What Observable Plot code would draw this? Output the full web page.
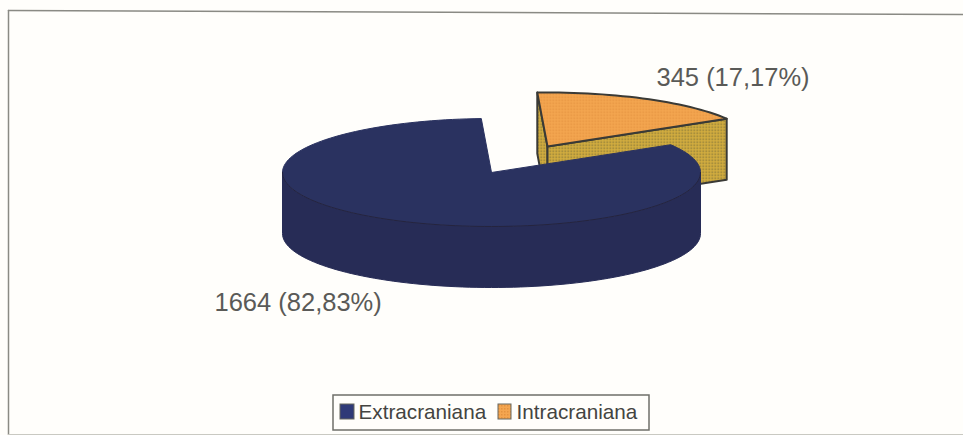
<!DOCTYPE html>
<html>
<head>
<meta charset="utf-8">
<script src="https://cdn.jsdelivr.net/npm/d3@7"></script>
<script src="https://cdn.jsdelivr.net/npm/@observablehq/plot@0.6"></script>
<style>
  html, body { margin: 0; padding: 0; background: #fffefb; overflow: hidden; }
  svg { display: block; }
</style>
</head>
<body>
<div id="chart"></div>
<script>
// Cases by location
const categories = ["Extracraniana", "Intracraniana"];
const counts = [1664, 345];

const total = d3.sum(counts);
const share = counts.map((c) => c / total);
const labels = counts.map((c, i) => `${c} (${(share[i] * 100).toFixed(2).replace(".", ",")}%)`);

// Tilted-disc projection of the pie
const pie = {cx: 491, cy: 172, rx: 209, ry: 54, depth: 61, startDeg: -2.8};
const explode = {dx: 56, dy: -26};
const rad = Math.PI / 180;
const rim = (deg, dx = 0, dy = 0, drop = 0) => ({
  x: pie.cx + dx + pie.rx * Math.sin(deg * rad),
  y: pie.cy + dy + drop - pie.ry * Math.cos(deg * rad)
});
const arc = (a, b, dx, dy, drop) => {
  const n = Math.max(2, Math.ceil(Math.abs(b - a) / 2));
  return d3.range(n + 1).map((i) => rim(a + ((b - a) * i) / n, dx, dy, drop));
};

const intraSweep = share[1] * 360;
const intraStart = pie.startDeg;
const intraEnd = intraStart + intraSweep;
const extraEnd = intraStart + 360;

// Detached Intracraniana slice: top face and the two visible cut faces
const hub = {x: pie.cx + explode.dx, y: pie.cy + explode.dy};
const hubLow = {x: hub.x, y: hub.y + pie.depth};
const intraTop = [hub, ...arc(intraStart, intraEnd, explode.dx, explode.dy, 0), hub];
const intraCutLeft = [
  rim(intraStart, explode.dx, explode.dy), hub, hubLow,
  rim(intraStart, explode.dx, explode.dy, pie.depth), rim(intraStart, explode.dx, explode.dy)
];
const intraCutRight = [
  hub, rim(intraEnd, explode.dx, explode.dy), rim(intraEnd, explode.dx, explode.dy, pie.depth), hubLow, hub
];

// Extracraniana slice: top face and the front wall
const extraTopPts = [{x: pie.cx, y: pie.cy}, ...arc(intraEnd, extraEnd, 0, 0, 0), {x: pie.cx, y: pie.cy}];
const frontUpper = arc(90, 270, 0, 0, 0);
const frontLower = arc(270, 90, 0, 0, pie.depth);
const extraWall = [...frontUpper, ...frontLower, frontUpper[0]];

// Chart frame and legend layout
const frameTop = [{x: 8, y: 10}, {x: 963, y: 14}];
const frameLeft = [{x: 8, y: 10}, {x: 8, y: 434}];
const frameBottom = [{x: 8, y: 434}, {x: 963, y: 434}];
const legendBox = [{x1: 333, x2: 649, y1: 395, y2: 430}];
const legendSwatches = [
  {x1: 340, x2: 354, y1: 404, y2: 419, fill: "#2f3a78"},
  {x1: 498, x2: 511, y1: 404, y2: 419, fill: "url(#orange-dots)"}
];
const legendLabels = [
  {x: 358, y: 418, text: categories[0]},
  {x: 516, y: 418, text: categories[1]}
];
const sliceLabels = [
  {x: 214, y: 310, text: labels[0]},
  {x: 656, y: 85, text: labels[1]}
];

const edge = "#3a3a36";
const chart = Plot.plot({
  width: 963,
  height: 435,
  margin: 0,
  style: {background: "#fffefb", fontFamily: "'Liberation Sans', Arial, sans-serif"},
  x: {domain: [0, 963], range: [0, 963], axis: null},
  y: {domain: [0, 435], range: [0, 435], axis: null},
  marks: [
    Plot.line(frameTop, {x: "x", y: "y", stroke: "#8a8a84", strokeWidth: 1.5}),
    Plot.line(frameLeft, {x: "x", y: "y", stroke: "#8a8a84", strokeWidth: 1.5}),
    Plot.line(frameBottom, {x: "x", y: "y", stroke: "#c9c9c2", strokeWidth: 1}),

    Plot.line(intraCutLeft, {x: "x", y: "y", fill: "url(#olive-dots)", stroke: edge, strokeWidth: 2}),
    Plot.line(intraCutRight, {x: "x", y: "y", fill: "url(#olive-dots)", stroke: edge, strokeWidth: 2}),
    Plot.line(intraTop, {x: "x", y: "y", fill: "url(#orange-dots)", stroke: edge, strokeWidth: 2}),

    Plot.line(extraWall, {x: "x", y: "y", fill: "#272c56", stroke: "#272c56", strokeWidth: 1}),
    Plot.line(extraTopPts, {x: "x", y: "y", fill: "#2a3260", stroke: "#2a3260", strokeWidth: 1}),
    Plot.line(frontUpper, {x: "x", y: "y", stroke: "#25243e", strokeWidth: 1}),

    Plot.text(sliceLabels, {
      x: "x", y: "y", text: "text", textAnchor: "start", lineAnchor: "bottom",
      fontSize: 25.5, fill: "#5a5a57"
    }),

    Plot.rect(legendBox, {x1: "x1", x2: "x2", y1: "y1", y2: "y2", fill: "#fffefb", stroke: "#6f6f6a", strokeWidth: 1.5}),
    Plot.rect(legendSwatches, {x1: "x1", x2: "x2", y1: "y1", y2: "y2", fill: "fill", stroke: "#66665f"}),
    Plot.text(legendLabels, {
      x: "x", y: "y", text: "text", textAnchor: "start", lineAnchor: "bottom",
      fontSize: 20.7, fill: "#444441"
    })
  ]
});

// Halftone fills for the Intracraniana slice
const defs = d3.select(chart).insert("defs", ":first-child");
const halftone = (id, base, dot) => {
  const p = defs.append("pattern").attr("id", id).attr("width", 3).attr("height", 3)
    .attr("patternUnits", "userSpaceOnUse");
  p.append("rect").attr("width", 3).attr("height", 3).attr("fill", base);
  p.append("rect").attr("width", 1.5).attr("height", 1.5).attr("fill", dot);
};
halftone("orange-dots", "#f4a650", "#e4933f");
halftone("olive-dots", "#d6b03f", "#857539");

document.getElementById("chart").append(chart);
</script>
</body>
</html>
